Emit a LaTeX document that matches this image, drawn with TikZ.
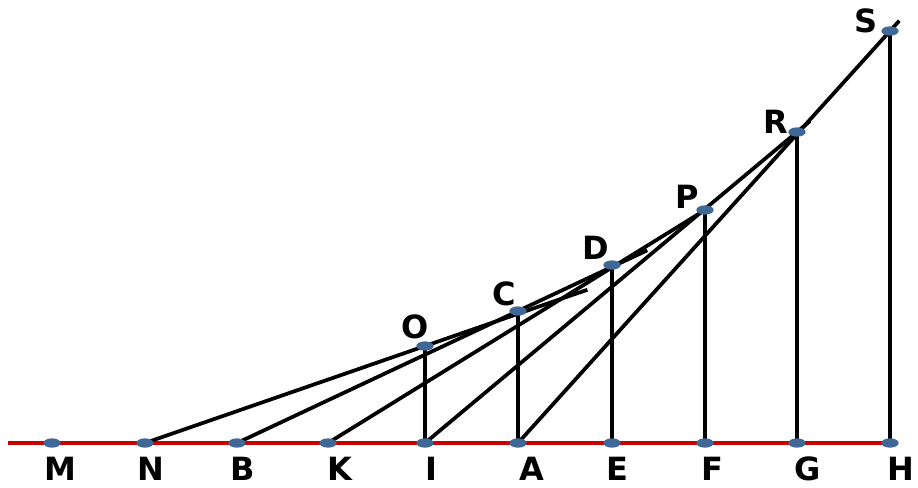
\documentclass[tikz,border=0pt]{standalone}
\usepackage{fontspec}
\setmainfont{DejaVu Sans}
\usepackage{tikz}
\usetikzlibrary{shapes.geometric,calc}
\definecolor{dotblue}{RGB}{64,104,150}
\definecolor{axisred}{RGB}{200,0,0}

\begin{document}
\begin{tikzpicture}[
  x=0.75pt, y=-0.75pt,
  font=\fontsize{24}{26}\selectfont\bfseries,
  seg/.style={line width=2.8pt, black},
  axis/.style={line width=3.4pt, axisred},
  dot/.style={ellipse, fill=dotblue, minimum width=13pt, minimum height=7pt, inner sep=0pt},
  lbl/.style={inner sep=0pt}
]
\useasboundingbox (0,0) rectangle (918,487);
% points on the base line
\foreach \n/\x in {M/52,N/145,B/237,K/328,I/425,A/518,E/612,F/705,G/797,H/890}
  \coordinate (\n) at (\x,443);
\coordinate (start) at (8,443);
% points on the curve
\coordinate (O) at (425,346);
\coordinate (C) at (518,311);
\coordinate (D) at (612,265);
\coordinate (P) at (705,210);
\coordinate (R) at (797,132);
\coordinate (S) at (890,31);

\draw[axis] (start) -- (H);
% tangents
\draw[seg] (N) -- ($(N)!1.58!(O)$);
\draw[seg] (B) -- ($(B)!1.46!(C)$);
\draw[seg] (K) -- (P);
\draw[seg] (I) -- ($(I)!1.035!(R)$);
\draw[seg] (A) -- ($(A)!1.025!(S)$);
% ordinates
\foreach \t/\b in {O/I,C/A,D/E,P/F,R/G,S/H}
  \draw[seg] (\t) -- (\b);

\foreach \p in {M,N,B,K,I,A,E,F,G,H,O,C,D,P,R,S}
  \node[dot] (d\p) at (\p) {};

% labels
\foreach \n/\x in {M/60,N/151,B/243,K/340,I/431,A/532,E/617,F/712,G/808,H/901}
  \node[lbl] (l\n) at (\x,469) {\n};
\node[lbl] (lO) at (415,327) {O};
\node[lbl] (lC) at (504,294) {C};
\node[lbl] (lD) at (596,248) {D};
\node[lbl] (lP) at (687,197) {P};
\node[lbl] (lR) at (776,122) {R};
\node[lbl] (lS) at (866,21) {S};
\end{tikzpicture}
\end{document}
